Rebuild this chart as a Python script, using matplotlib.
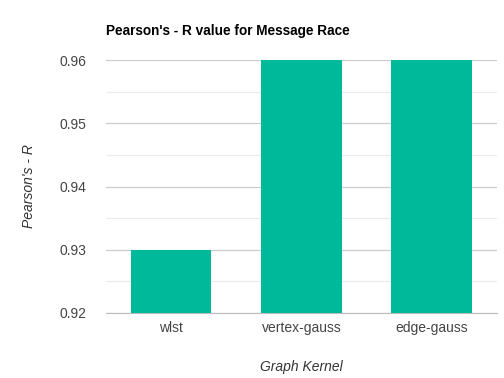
import matplotlib.pyplot as plt
import numpy as np

plt.rcParams['font.family'] = ['Liberation Sans', 'DejaVu Sans']

kernels = ["wlst", "vertex-gauss", "edge-gauss"]
pearson_r = [0.93, 0.96, 0.96]
y_ticks = [0.92, 0.93, 0.94, 0.95, 0.96]
y_minor = [0.925, 0.935, 0.945, 0.955]

fig = plt.figure(figsize=(5.04, 3.78), dpi=100)
ax = fig.add_axes([0.210, 0.172, 0.776, 0.669])

x = np.arange(len(kernels))
ax.bar(x, pearson_r, width=0.62, color="#00b89a", zorder=3)

ax.set_xlim(-0.5, len(kernels) - 0.5)
ax.set_ylim(0.92, 0.96)
ax.set_yticks(y_ticks)
ax.set_yticklabels([f"{v:.2f}" for v in y_ticks])
ax.set_yticks(y_minor, minor=True)
ax.set_xticks(x)
ax.set_xticklabels(kernels)

ax.grid(axis="y", which="major", color="#cccccc", linewidth=0.9, zorder=0)
ax.grid(axis="y", which="minor", color="#ebebeb", linewidth=0.8, zorder=0)
for side in ["top", "right", "left"]:
    ax.spines[side].set_visible(False)
ax.spines["bottom"].set_color("#bbbbbb")
ax.tick_params(axis="both", which="both", length=0, labelsize=10, labelcolor="#444444")
ax.tick_params(axis="y", pad=14)
ax.tick_params(axis="x", pad=6)

ax.set_xlabel("Graph Kernel", fontsize=10, style="italic", color="#333333", labelpad=18)
ax.set_ylabel("Pearson's - R", fontsize=10, style="italic", color="#333333", labelpad=17)
fig.text(0.210, 0.918, "Pearson's - R value for Message Race", fontsize=9.8,
         fontweight="bold", color="#000000", ha="left", va="center")

fig.savefig("out.png", dpi=100)
